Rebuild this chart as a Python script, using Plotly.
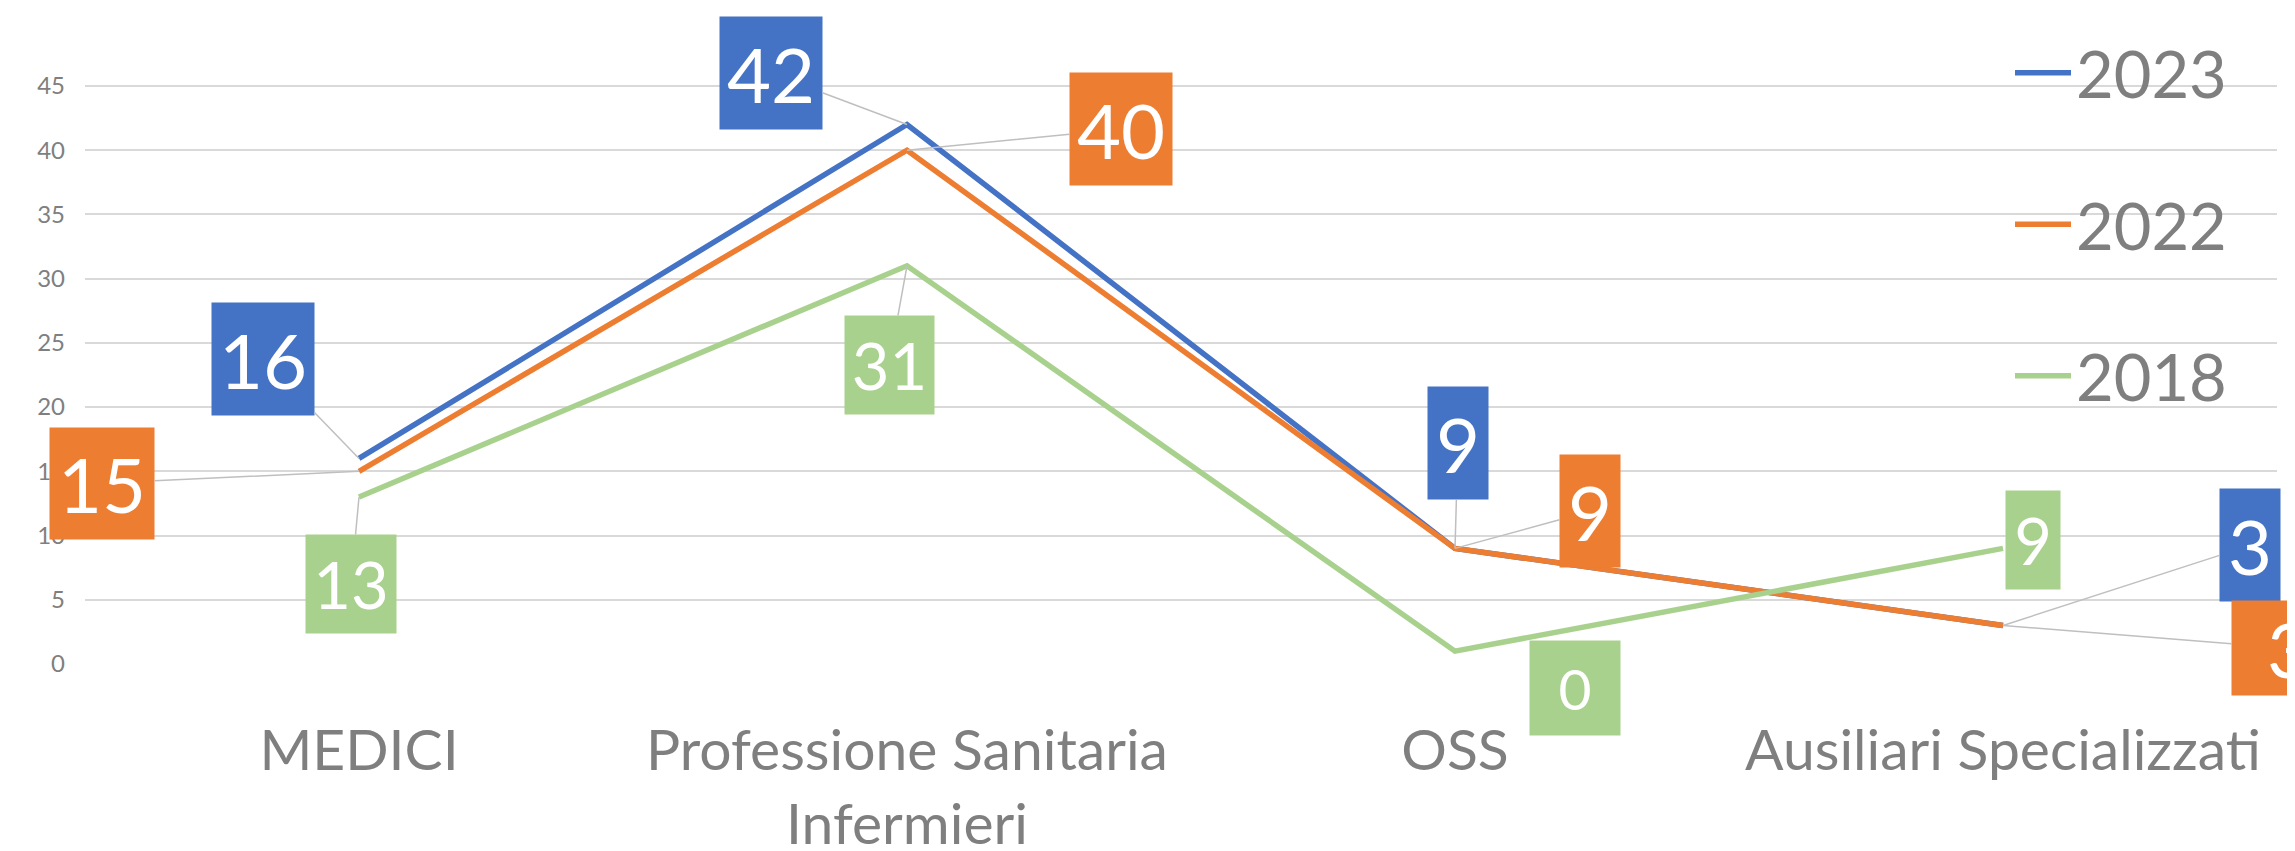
import plotly.graph_objects as go

# ---------------- data ----------------
categories = ["MEDICI", "Professione Sanitaria Infermieri", "OSS", "Ausiliari Specializzati"]
tick_labels = ["MEDICI", "Professione Sanitaria<br>Infermieri", "OSS", "Ausiliari Specializzati"]
series_names = ["2023", "2022", "2018"]
values_2023 = [16, 42, 9, 3]
values_2022 = [15, 40, 9, 3]
values_2018 = [13, 31, 1, 9]
labels_2023 = ["16", "42", "9", "3"]
labels_2022 = ["15", "40", "9", "3"]
labels_2018 = ["13", "31", "0", "9"]
y_ticks = [0, 5, 10, 15, 20, 25, 30, 35, 40, 45]

# ---------------- styles ----------------
colors = {"2023": "#4472C4", "2022": "#ED7D31", "2018": "#A9D18E"}
FONT = "Lato"
GREY = "#7F7F7F"

# label placement: (ax, ay, box width, box height, font size, leader line)
label_style = {
    "2023": [(-96, -99, 102, 112, 76, True), (-136, -51, 102, 112, 76, True),
             (3, -105, 60, 112, 76, True), (247, -80, 60, 112, 76, True)],
    "2022": [(-257, 12, 104, 111, 76, True), (214, -21, 102, 112, 76, True),
             (135, -37, 60, 112, 76, True), (286, 23, 114, 94, 76, True)],
    "2018": [(-8, 87, 90, 98, 65, True), (-18, 99, 89, 98, 65, True),
             (120, 37, 90, 94, 57, False), (30, -8, 54, 98, 65, False)],
}

series_values = {"2023": values_2023, "2022": values_2022, "2018": values_2018}
series_labels = {"2023": labels_2023, "2022": labels_2022, "2018": labels_2018}

fig = go.Figure()
for name in series_names:
    fig.add_trace(go.Scatter(
        x=categories, y=series_values[name], name=name, mode="lines",
        legendgroup=name,
        line=dict(color=colors[name], width=5.5),
    ))

annotations = []
for name in series_names:
    for i, cat in enumerate(categories):
        ax, ay, w, h, fs, leader = label_style[name][i]
        annotations.append(dict(
            x=cat, y=series_values[name][i], xref="x", yref="y",
            text=series_labels[name][i], showarrow=True,
            ax=ax, ay=ay, arrowhead=0, arrowwidth=1.5, standoff=0,
            arrowcolor="#BFBFBF" if leader else "rgba(0,0,0,0)",
            bgcolor=colors[name], borderpad=0, width=w, height=h,
            align="center", valign="middle",
            font=dict(family=FONT, size=fs, color="white"),
        ))

# page body has an 8px default margin: figure is drawn 8px in from the window corner
W, H = 2287, 843
L, T, PW, PH = 77, 13, 2192, 643

fig.update_layout(
    width=W, height=H,
    margin=dict(l=L, r=W - L - PW, t=T, b=H - T - PH, autoexpand=False),
    paper_bgcolor="white", plot_bgcolor="white",
    font=dict(family=FONT, color=GREY),
    showlegend=True,
    legend=dict(
        x=(2002 - L) / PW, xanchor="left",
        y=(T + PH - 16) / PH, yanchor="top",
        font=dict(family=FONT, size=65, color=GREY),
        bgcolor="rgba(0,0,0,0)", tracegroupgap=64, traceorder="grouped",
        itemwidth=56,
    ),
    annotations=annotations,
    xaxis=dict(
        type="category", categoryorder="array", categoryarray=categories,
        range=[-0.5, 3.5], showgrid=False, zeroline=False, showline=False,
        ticks="", tickmode="array", tickvals=categories, ticktext=tick_labels,
        tickfont=dict(family=FONT, size=57, color=GREY),
        ticklabelstandoff=48, automargin=False,
    ),
    yaxis=dict(
        range=[0, PH / 12.846], showgrid=True, gridcolor="#D9D9D9", gridwidth=1.5,
        zeroline=False, showline=False, ticks="",
        tickmode="array", tickvals=y_ticks,
        tickfont=dict(family=FONT, size=24, color=GREY),
        ticklabelstandoff=19, automargin=False,
    ),
)

fig.write_html("out.html")
